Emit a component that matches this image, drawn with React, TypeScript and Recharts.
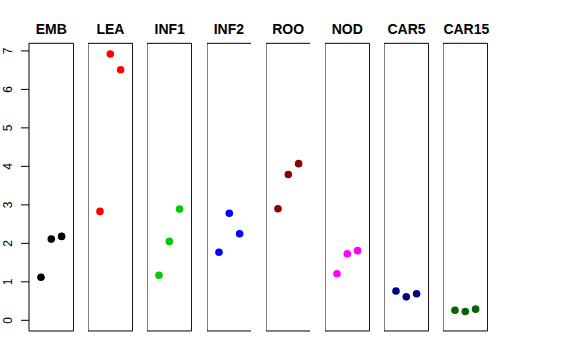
import React from 'react'
import { ScatterChart, Scatter, XAxis, YAxis, ReferenceArea } from 'recharts'

const panels = ['EMB', 'LEA', 'INF1', 'INF2', 'ROO', 'NOD', 'CAR5', 'CAR15']
const panelColors = ['#000000', '#FF0000', '#00CD00', '#0000FF', '#8B0000', '#FF00FF', '#00008B', '#006400']
const replicates = [1, 2, 3]

const emb = [1.12, 2.11, 2.18]
const lea = [2.83, 6.92, 6.51]
const inf1 = [1.17, 2.05, 2.89]
const inf2 = [1.77, 2.78, 2.25]
const roo = [2.9, 3.79, 4.07]
const nod = [1.21, 1.73, 1.81]
const car5 = [0.76, 0.61, 0.69]
const car15 = [0.26, 0.23, 0.29]

const yTicks = [0, 1, 2, 3, 4, 5, 6, 7]

const seriesValues = [emb, lea, inf1, inf2, roo, nod, car5, car15]

const X_DOMAIN: [number, number] = [-0.16, 4.16]
const Y_DOMAIN: [number, number] = [-0.277, 7.197]

const PANEL_W = 44.6
const PANEL_STEP = 59.2
const FIRST_LEFT = 29
const AXIS_W = 29
const TOP = 43.3
const BOTTOM = 29

const RotatedTick = (props: any) => {
  const { y, payload } = props
  return (
    <text
      x={8}
      y={y}
      transform={`rotate(-90, 8, ${y})`}
      textAnchor="middle"
      dominantBaseline="central"
      fontSize={12}
      fontFamily="'Liberation Sans', Arial, sans-serif"
      fill="#000"
    >
      {payload.value}
    </text>
  )
}

const Dot = (color: string) => (props: any) => (
  <circle cx={props.cx} cy={props.cy} r={3.8} fill={color} />
)

const App = () => {
  return (
    <div style={{ position: 'absolute', left: 0, top: 0, width: 576, height: 360, background: '#fff' }}>
      {panels.map((name, i) => {
        const first = i === 0
        const left = FIRST_LEFT + i * PANEL_STEP
        const data = replicates.map((r, j) => ({ x: r, y: seriesValues[i][j] }))
        const w = first ? PANEL_W + AXIS_W : PANEL_W
        return (
          <div key={name} style={{ position: 'absolute', left: first ? 0 : left, top: 0 }}>
            <div
              style={{
                position: 'absolute',
                left: first ? AXIS_W : 0,
                width: PANEL_W,
                top: 20,
                textAlign: 'center',
                fontFamily: "'Liberation Sans', Arial, sans-serif",
                fontWeight: 'bold',
                fontSize: 14,
                lineHeight: '18px',
                color: '#000',
              }}
            >
              {name}
            </div>
            <ScatterChart width={w} height={360} margin={{ top: TOP, bottom: BOTTOM, left: 0, right: 0 }}>
              <XAxis type="number" dataKey="x" domain={X_DOMAIN} hide />
              <YAxis
                type="number"
                dataKey="y"
                domain={Y_DOMAIN}
                ticks={yTicks}
                hide={!first}
                width={AXIS_W}
                axisLine={false}
                tickLine={{ stroke: '#000' }}
                tickSize={8}
                tick={<RotatedTick />}
                allowDataOverflow
              />
              <ReferenceArea
                x1={X_DOMAIN[0]}
                x2={X_DOMAIN[1]}
                y1={Y_DOMAIN[0]}
                y2={Y_DOMAIN[1]}
                fill="none"
                stroke="#000"
                strokeWidth={1}
                fillOpacity={0}
              />
              <Scatter data={data} fill={panelColors[i]} shape={Dot(panelColors[i])} isAnimationActive={false} />
            </ScatterChart>
          </div>
        )
      })}
    </div>
  )
}

export default App
